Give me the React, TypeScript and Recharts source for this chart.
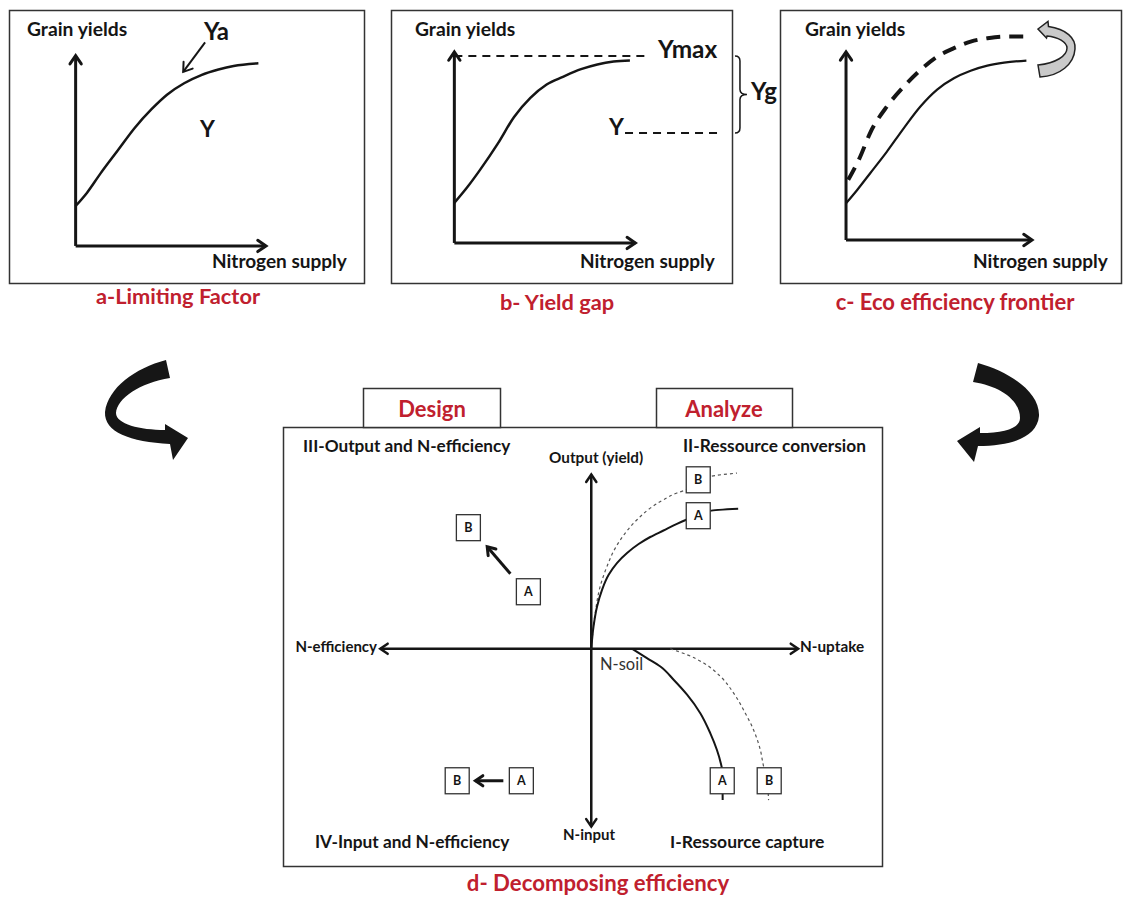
import React from "react";
import { ComposedChart, Line, Scatter, XAxis, YAxis, ReferenceLine } from "recharts";

const FONT = "Lato, 'Open Sans', sans-serif";
const RED = "#c0202e";
const INK = "#151515";

// a - limiting factor
const supplyA = [0, 6, 13, 22, 31, 40, 48, 57, 66, 75, 83, 96];
const yieldA = [21, 28, 38, 50, 62, 72, 79.5, 85.5, 89.8, 92.7, 94.6, 96];
const yaArrow = [{ x: 68, y: 107 }, { x: 56.5, y: 91.5 }];

// b - yield gap
const supplyB = [0, 7, 14, 24, 33, 42, 51, 60, 70, 79, 88, 97];
const yieldB = [21, 29, 38, 52, 66, 76, 83, 87, 91, 93.5, 95, 95.5];
const ymaxLevel = 97.9;
const yLevel = 57.6;

// c - eco efficiency frontier
const supplyC = [0, 6, 13, 22, 31, 40, 49, 58, 67, 76, 85, 97];
const yieldC = [19.5, 26.6, 35.5, 47, 59.4, 71, 80, 86, 90, 92.7, 94.3, 95.4];
const supplyFrontier = [1.2, 7.5, 13, 22, 31, 40, 49, 58, 67, 76, 85, 100];
const yieldFrontier = [32, 44, 57, 71, 81.5, 90.4, 97.5, 102, 105.5, 107.3, 108.2, 108.2];

// d - decomposing efficiency (x: N-uptake / -N-efficiency, y: output / -N-input)
const uptakeConvA = [0, 1.1, 2.8, 5.2, 8.4, 12.4, 17.3, 22.9, 28.5, 34.9, 41.4, 45.9, 57.5, 71];
const outputConvA = [0, 12.7, 24, 33.5, 42, 48.7, 54.4, 59.5, 63.5, 67.2, 71, 73.3, 78.4, 79.5];
const uptakeConvB = [0, 1.9, 4.3, 7.6, 11.6, 16.4, 22.1, 28.5, 34.9, 41.4, 45.9, 57.5, 70.4];
const outputConvB = [0, 20.3, 35.4, 46.8, 57.2, 65.7, 73.3, 79.9, 84.7, 88.5, 90.3, 97.9, 99.8];
const uptakeCapA = [19.7, 26.9, 33.4, 39.8, 46.3, 52.7, 57.5, 60.7, 62.6, 63.4, 63.5];
const inputCapA = [0, -5.3, -10.1, -17.6, -26.1, -36.6, -47.9, -57.4, -65, -70, -86];
const uptakeCapB = [38.2, 46.3, 54.3, 62.4, 68.8, 74.4, 78.4, 81.7, 83.3, 84.5, 85.7];
const inputCapB = [0, -3.4, -8.1, -15.7, -25.2, -36.5, -46, -57.4, -66.9, -72, -86];

const boxLabels = ["A", "B"];
const convBoxX = [51.7, 51.7];
const convBoxY = [75.6, 96];
const designBoxX = [-30.4, -59.4];
const designBoxY = [32.4, 68.8];
const inputBoxX = [-33.8, -64.8];
const inputBoxY = [-75, -75];
const captureBoxX = [63.3, 86];
const captureBoxY = [-75, -75];
const designArrow = [{ x: -39.1, y: 42.6 }, { x: -50.3, y: 58 }];
const inputArrow = [{ x: -42.5, y: -75 }, { x: -56, y: -75 }];

const zip = (xs: number[], ys: number[]) => xs.map((x, i) => ({ x, y: ys[i] }));
const boxes = (xs: number[], ys: number[]) =>
	xs.map((x, i) => ({ x, y: ys[i], label: boxLabels[i] }));

function arrowShape(head: number, width: number) {
	return (p: any) => {
		const { x1, y1, x2, y2 } = p;
		const a = Math.atan2(y2 - y1, x2 - x1);
		const s = 0.6;
		const l = `${x2 - head * Math.cos(a - s)},${y2 - head * Math.sin(a - s)}`;
		const r = `${x2 - head * Math.cos(a + s)},${y2 - head * Math.sin(a + s)}`;
		return (
			<g>
				<line x1={x1} y1={y1} x2={x2} y2={y2} stroke={INK} strokeWidth={width} />
				<polyline
					points={`${l} ${x2},${y2} ${r}`}
					fill="none"
					stroke={INK}
					strokeWidth={width}
					strokeLinecap="round"
				/>
			</g>
		);
	};
}

function braceShape(p: any) {
	const { x1: x, y1, y2 } = p;
	const m = (y1 + y2) / 2;
	const d = `M${x - 5},${y1} Q${x},${y1} ${x},${y1 + 5} L${x},${m - 5} Q${x},${m} ${x + 7},${m} Q${x},${m} ${x},${m + 5} L${x},${y2 - 5} Q${x},${y2} ${x - 5},${y2}`;
	return <path d={d} fill="none" stroke={INK} strokeWidth={1.5} />;
}

function boxShape(p: any) {
	const { cx, cy, payload } = p;
	return (
		<g>
			<rect x={cx - 12} y={cy - 13} width={24} height={26} fill="#fff" stroke="#333" strokeWidth={1.3} />
			<text x={cx} y={cy + 4.5} textAnchor="middle" fontSize={12.5} fontWeight={700} fontFamily={FONT} fill={INK}>
				{payload.label}
			</text>
		</g>
	);
}

const M0 = { top: 0, right: 0, bottom: 0, left: 0 };

function T({
	x,
	y,
	size,
	children,
	anchor = "start",
	weight = 700,
	fill = INK,
}: {
	x: number;
	y: number;
	size: number;
	children: React.ReactNode;
	anchor?: "start" | "middle" | "end";
	weight?: number;
	fill?: string;
}) {
	return (
		<text x={x} y={y} fontSize={size} fontWeight={weight} textAnchor={anchor} fill={fill} fontFamily={FONT}>
			{children}
		</text>
	);
}

function GrowthPanel({
	left,
	width,
	xDomain,
	yDomain,
	children,
}: {
	left: number;
	width: number;
	xDomain: [number, number];
	yDomain: [number, number];
	children: React.ReactNode;
}) {
	return (
		<div style={{ position: "absolute", left, top: 10 }}>
			<ComposedChart width={width} height={274} margin={M0}>
				<XAxis type="number" dataKey="x" domain={xDomain} hide allowDataOverflow />
				<YAxis type="number" domain={yDomain} hide allowDataOverflow />
				<ReferenceLine segment={[{ x: 0, y: 0 }, { x: 100, y: 0 }]} ifOverflow="visible" shape={arrowShape(10, 3)} />
				<ReferenceLine segment={[{ x: 0, y: 0 }, { x: 0, y: 100 }]} ifOverflow="visible" shape={arrowShape(10, 3)} />
				{children}
			</ComposedChart>
		</div>
	);
}

export default function App() {
	return (
		<div style={{ position: "absolute", left: 0, top: 0, width: 1123, height: 898, background: "#fff" }}>
			<GrowthPanel left={9} width={356} xDomain={[-35, 152]} yDomain={[-20, 124]}>
				<Line data={zip(supplyA, yieldA)} dataKey="y" type="monotone" stroke={INK} strokeWidth={2.5} dot={false} isAnimationActive={false} />
				<ReferenceLine segment={yaArrow} ifOverflow="visible" shape={arrowShape(10, 2)} />
			</GrowthPanel>

			<GrowthPanel left={391} width={400} xDomain={[-35, 186]} yDomain={[-21.5, 122]}>
				<ReferenceLine segment={[{ x: 0, y: ymaxLevel }, { x: 108, y: ymaxLevel }]} ifOverflow="visible" stroke={INK} strokeWidth={2} strokeDasharray="8 6" />
				<ReferenceLine segment={[{ x: 94.3, y: yLevel }, { x: 148, y: yLevel }]} ifOverflow="visible" stroke={INK} strokeWidth={2} strokeDasharray="8 6" />
				<ReferenceLine segment={[{ x: 157.8, y: ymaxLevel }, { x: 157.8, y: yLevel }]} ifOverflow="visible" shape={braceShape} />
				<Line data={zip(supplyB, yieldB)} dataKey="y" type="monotone" stroke={INK} strokeWidth={2.5} dot={false} isAnimationActive={false} />
			</GrowthPanel>

			<GrowthPanel left={780} width={342} xDomain={[-35.5, 148.4]} yDomain={[-23.4, 122.3]}>
				<Line data={zip(supplyC, yieldC)} dataKey="y" type="monotone" stroke={INK} strokeWidth={2.2} dot={false} isAnimationActive={false} />
				<Line data={zip(supplyFrontier, yieldFrontier)} dataKey="y" type="monotone" stroke={INK} strokeWidth={4} strokeDasharray="14 9" dot={false} isAnimationActive={false} />
			</GrowthPanel>

			<div style={{ position: "absolute", left: 283, top: 427 }}>
				<ComposedChart width={600} height={440} margin={M0} layout="vertical">
					<XAxis type="number" domain={[-149, 141]} hide allowDataOverflow />
					<YAxis type="number" dataKey="y" domain={[-124, 126]} hide allowDataOverflow reversed />
					<ReferenceLine segment={[{ x: 0, y: 0 }, { x: 100, y: 0 }]} ifOverflow="visible" shape={arrowShape(9, 2.5)} />
					<ReferenceLine segment={[{ x: 0, y: 0 }, { x: -102, y: 0 }]} ifOverflow="visible" shape={arrowShape(9, 2.5)} />
					<ReferenceLine segment={[{ x: 0, y: 0 }, { x: 0, y: 99 }]} ifOverflow="visible" shape={arrowShape(9, 2.5)} />
					<ReferenceLine segment={[{ x: 0, y: 0 }, { x: 0, y: -101 }]} ifOverflow="visible" shape={arrowShape(9, 2.5)} />
					<ReferenceLine segment={designArrow} ifOverflow="visible" shape={arrowShape(9, 3)} />
					<ReferenceLine segment={inputArrow} ifOverflow="visible" shape={arrowShape(9, 3)} />
					<Line data={zip(uptakeConvB, outputConvB)} dataKey="x" type="monotone" stroke="#555" strokeWidth={1.2} strokeDasharray="3 3" dot={false} isAnimationActive={false} />
					<Line data={zip(uptakeConvA, outputConvA)} dataKey="x" type="monotone" stroke={INK} strokeWidth={2} dot={false} isAnimationActive={false} />
					<Line data={zip(uptakeCapB, inputCapB)} dataKey="x" type="monotone" stroke="#555" strokeWidth={1.2} strokeDasharray="3 3" dot={false} isAnimationActive={false} />
					<Line data={zip(uptakeCapA, inputCapA)} dataKey="x" type="monotone" stroke={INK} strokeWidth={2} dot={false} isAnimationActive={false} />
					<Scatter data={boxes(convBoxX, convBoxY)} dataKey="x" shape={boxShape} isAnimationActive={false} />
					<Scatter data={boxes(designBoxX, designBoxY)} dataKey="x" shape={boxShape} isAnimationActive={false} />
					<Scatter data={boxes(inputBoxX, inputBoxY)} dataKey="x" shape={boxShape} isAnimationActive={false} />
					<Scatter data={boxes(captureBoxX, captureBoxY)} dataKey="x" shape={boxShape} isAnimationActive={false} />
				</ComposedChart>
			</div>

			<svg width={1123} height={898} style={{ position: "absolute", left: 0, top: 0, pointerEvents: "none" }}>
				{/* frames */}
				<rect x={9.5} y={10.5} width={355} height={273} fill="none" stroke="#333" strokeWidth={1.5} />
				<rect x={391.5} y={10.5} width={341} height={273} fill="none" stroke="#333" strokeWidth={1.5} />
				<rect x={780.5} y={10.5} width={341} height={273} fill="none" stroke="#333" strokeWidth={1.5} />
				<rect x={283.5} y={427.5} width={599} height={439} fill="none" stroke="#333" strokeWidth={1.5} />
				<rect x={363.5} y={388.5} width={137} height={39} fill="#fff" stroke="#333" strokeWidth={1.5} />
				<rect x={656.5} y={388.5} width={136} height={39} fill="#fff" stroke="#333" strokeWidth={1.5} />

				{/* panel a */}
				<T x={27} y={36} size={19.3}>Grain yields</T>
				<T x={204} y={40} size={24}>Ya</T>
				<T x={200} y={137} size={23}>Y</T>
				<T x={212} y={268} size={19}>Nitrogen supply</T>
				<T x={178} y={304} size={21.8} anchor="middle" fill={RED}>a-Limiting Factor</T>

				{/* panel b */}
				<T x={415} y={36} size={19.3}>Grain yields</T>
				<T x={658} y={58} size={24.4}>Ymax</T>
				<T x={609} y={135} size={23}>Y</T>
				<T x={751} y={100} size={24}>Yg</T>
				<T x={580} y={268} size={19}>Nitrogen supply</T>
				<T x={557} y={310} size={21.8} anchor="middle" fill={RED}>b- Yield gap</T>

				{/* panel c */}
				<T x={805} y={36} size={19.3}>Grain yields</T>
				<T x={973} y={268} size={19}>Nitrogen supply</T>
				<T x={955} y={310} size={22} anchor="middle" fill={RED}>c- Eco efficiency frontier</T>
				<path
					d="M1038,29 L1048,21.5 L1048.5,26.5 C1066,29 1076,38 1075,49 C1074,64 1060,76 1040,77 L1038,65 C1056,63 1067,56 1067,48 C1067,42 1058,37 1047,36 L1046.5,38 Z"
					fill="#c9c9c9"
					stroke="#222"
					strokeWidth={1.5}
				/>

				{/* curved arrows */}
				<path
					d="M166,360 C135,368 108,388 105,412 C104,432 130,442 170,444 L173,460 L188,438 L165,424 L165,430 C140,430 116,424 116,413 C117,398 140,383 170,378 Z"
					fill="#161616"
				/>
				<path
					d="M978,363 C1010,372 1040,392 1039,416 C1037,438 1010,446 978,446 L974,462 L957,441 L980,427 L980,433 C1005,433 1020,428 1020,418 C1020,400 1000,386 973,382 Z"
					fill="#161616"
				/>

				{/* panel d */}
				<T x={432} y={417} size={22} anchor="middle" fill={RED}>Design</T>
				<T x={724} y={417} size={22} anchor="middle" fill={RED}>Analyze</T>
				<T x={303} y={452} size={17.2}>III-Output and N-efficiency</T>
				<T x={683} y={452} size={17.3}>II-Ressource conversion</T>
				<T x={315} y={848} size={17.3}>IV-Input and N-efficiency</T>
				<T x={670} y={848} size={17.5}>I-Ressource capture</T>
				<T x={549} y={463} size={15.3}>Output (yield)</T>
				<T x={377} y={652} size={15} anchor="end">N-efficiency</T>
				<T x={800} y={652} size={15.3}>N-uptake</T>
				<T x={589} y={840} size={15} anchor="middle">N-input</T>
				<T x={600} y={670} size={16.5} weight={400} fill="#333">N-soil</T>
				<T x={598} y={891} size={22.2} anchor="middle" fill={RED}>d- Decomposing efficiency</T>
			</svg>
		</div>
	);
}
